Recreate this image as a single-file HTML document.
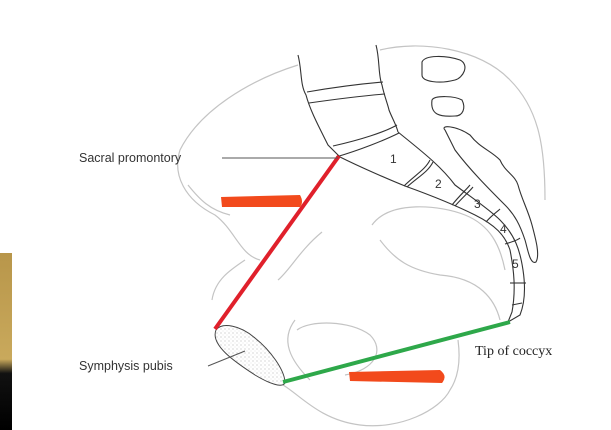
<!DOCTYPE html>
<html><head><meta charset="utf-8"><style>
html,body{margin:0;padding:0;background:#fff;width:611px;height:430px;overflow:hidden}
svg{display:block}
</style></head><body>
<svg width="611" height="430" viewBox="0 0 611 430" xmlns="http://www.w3.org/2000/svg">
<defs>
<linearGradient id="ph" x1="0" y1="0" x2="0" y2="1">
<stop offset="0" stop-color="#b8964a"/><stop offset="0.6" stop-color="#c9a95c"/><stop offset="0.68" stop-color="#111"/><stop offset="1" stop-color="#000"/>
</linearGradient>
<pattern id="dots" width="4" height="4" patternUnits="userSpaceOnUse"><circle cx="1" cy="1" r="0.5" fill="#999"/><circle cx="3" cy="3" r="0.4" fill="#bbb"/></pattern>
</defs>
<rect x="0" y="253" width="12" height="177" fill="url(#ph)"/>
<g fill="none" stroke="#c4c4c4" stroke-width="1.2">
<path d="M298,65 C250,80 200,110 180,150 C172,175 185,200 215,215 C235,230 240,255 260,260"/>
<path d="M188,185 C200,200 210,210 230,215"/>
<path d="M380,50 C420,40 480,48 510,80 C540,110 545,150 545,200"/>
<path d="M372,225 C390,200 440,205 465,215 C490,225 500,245 505,270"/>
<path d="M322,232 C300,250 290,270 278,280"/>
<path d="M380,240 C395,260 410,270 440,275 C480,278 495,300 500,320"/>
<path d="M295,320 C280,340 290,360 310,380"/>
<path d="M297,330 C310,320 350,320 370,335 C385,350 375,370 345,375"/>
<path d="M283,385 C300,395 320,420 360,425 C400,430 440,410 450,390 C460,375 460,355 458,340"/>
<path d="M212,300 C215,280 230,270 245,260"/>
</g>
<g fill="none" stroke="#333" stroke-width="1.1">
<path d="M298,55 C302,70 300,85 306,95 C310,110 318,125 328,145 L340,157"/>
<path d="M376,45 C380,60 378,75 382,85 C384,95 388,105 389,110 C392,118 396,124 398,132"/>
<path d="M307,92 C330,88 360,84 383,82"/>
<path d="M309,103 C330,100 360,96 385,94"/>
<path d="M333,146 C360,140 385,132 397,125"/>
<path d="M336,157 C360,150 385,140 399,133"/>
<path d="M340,157 C360,167 390,180 405,186 C430,195 455,205 475,215 C495,225 505,235 510,250 C514,270 516,290 512,312 L508,322"/>
<path d="M398,132 C420,150 440,165 455,185 C475,200 490,210 500,220 C515,235 520,250 523,270 C526,290 524,305 520,315 L508,322"/>
<path d="M404,186 C415,175 425,170 430,160"/>
<path d="M407,187 C418,177 428,172 433,162"/>
<path d="M452,205 C460,195 466,190 470,185"/>
<path d="M455,206 C463,197 469,192 473,187"/>
<path d="M486,222 C492,215 497,212 500,209"/>
<path d="M505,244 C512,242 518,240 520,238"/>
<path d="M510,283 L526,283"/>
<path d="M512,305 L522,303"/>
<path d="M422,62 C425,55 445,55 460,60 C470,65 463,78 455,80 C440,84 422,82 422,75 Z"/>
<path d="M432,100 C435,95 455,96 462,100 C466,108 463,116 455,116 C440,117 430,115 432,100 Z"/>
<path d="M445,130 C440,125 455,125 470,135 C480,148 490,150 500,160 C505,172 515,175 518,185 C522,200 528,210 532,225 C536,240 540,255 536,262 C530,265 528,250 525,240 C520,225 515,215 505,205 C490,190 470,170 455,150 Z"/>
</g>
<path d="M216,330 C222,322 240,325 255,338 C270,350 285,370 285,383 C282,388 270,384 255,375 C235,362 210,345 216,330 Z" fill="url(#dots)" stroke="#444" stroke-width="1"/>
<line x1="339" y1="156" x2="215" y2="329" stroke="#e0202b" stroke-width="4"/>
<line x1="283" y1="382" x2="510" y2="322" stroke="#2ea84a" stroke-width="4"/>
<path d="M221,197 L300,195 Q304,202 300,207 L222,207 Z" fill="#f24a1c"/>
<path d="M349,372 L440,370 Q448,376 442,383 L350,381 Z" fill="#f24a1c"/>
<line x1="222" y1="158" x2="338" y2="158" stroke="#555" stroke-width="1"/>
<line x1="208" y1="366" x2="245" y2="351" stroke="#555" stroke-width="1"/>
<g font-family="Liberation Sans, sans-serif" font-size="12.5" fill="#333">
<text x="79" y="162">Sacral promontory</text>
<text x="79" y="370">Symphysis pubis</text>
<text x="390" y="163" font-size="12">1</text>
<text x="435" y="188" font-size="12">2</text>
<text x="474" y="208" font-size="12">3</text>
<text x="500" y="233" font-size="12">4</text>
<text x="512" y="268" font-size="12">5</text>
</g>
<text x="475" y="355" font-family="Liberation Serif, serif" font-size="14" fill="#222">Tip of coccyx</text>
</svg>
</body></html>
